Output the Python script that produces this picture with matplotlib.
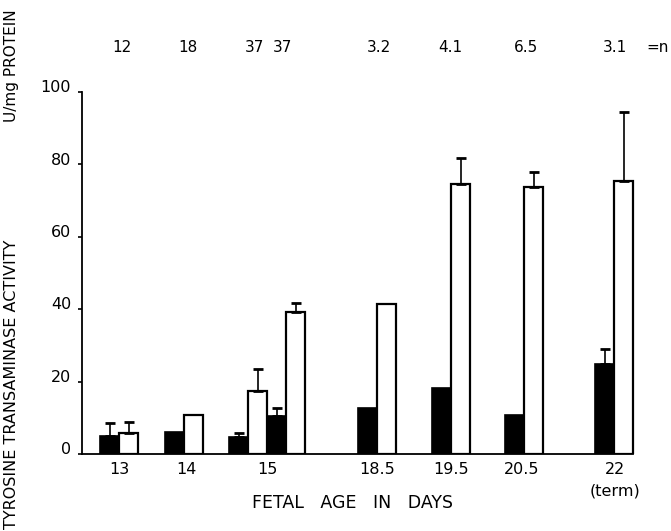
import matplotlib.pyplot as plt
import numpy as np

plt.rcParams['font.family'] = ['DejaVu Sans']

# one pair of bars per measurement (age 15 has two pairs)
pair_ages = ['13', '14', '15', '15', '18.5', '19.5', '20.5', '22']
fetal = [5.0, 6.0, 4.6, 10.4, 12.7, 18.2, 10.8, 24.8]
fetal_err = [3.6, 0, 1.2, 2.3, 0, 0, 0, 4.2]
other = [5.8, 10.7, 17.4, 39.2, 41.4, 74.5, 73.7, 75.3]
other_err = [3.0, 0, 6.0, 2.5, 0, 7.4, 4.3, 19.3]
n_labels = ['12', '18', '37', '37', '3.2', '4.1', '6.5', '3.1']

tick_labels = ['13', '14', '15', '18.5', '19.5', '20.5', '22']
y_ticks = [0, 20, 40, 60, 80, 100]

# layout (horizontal positions on the page, roughly pixels)
pair_x = np.array([119, 184, 248, 286, 377, 451, 524, 614])
tick_x = [119, 186, 267, 377, 451, 522, 615]
n_x = [122, 188, 255, 282, 379, 450, 526, 615]
w = 19

fig = plt.figure(figsize=(6.71, 5.31), dpi=100)
ax = fig.add_axes([82/671, 77/531, 556/671, 362/531])

ax.bar(pair_x - w/2, fetal, width=w, color='black', edgecolor='black', lw=1.2)
ax.bar(pair_x + w/2, other, width=w, color='white', edgecolor='black', lw=1.6)

for x, v, e in zip(pair_x - w/2, fetal, fetal_err):
    if e > 0:
        ax.errorbar(x, v + e/2, yerr=[[e/2], [e/2]], fmt='none', ecolor='black',
                    elinewidth=1.2, capsize=3.5, capthick=2)
for x, v, e in zip(pair_x + w/2, other, other_err):
    if e > 0:
        ax.errorbar(x, v + e/2, yerr=[[e/2], [e/2]], fmt='none', ecolor='black',
                    elinewidth=1.2, capsize=3.5, capthick=2)

ax.set_xlim(82, 638)
ax.set_ylim(0, 100)
ax.spines['top'].set_visible(False)
ax.spines['right'].set_visible(False)
ax.spines['left'].set_linewidth(1.3)
ax.spines['bottom'].set_linewidth(1.3)
ax.spines['bottom'].set_bounds(82, 633)

# y tick labels sit a little above their ticks in the original
ax.set_yticks(y_ticks)
ax.set_yticklabels([])
ax.tick_params(axis='y', length=3, width=1.2)
for t in y_ticks:
    ax.text(71, t + 1.2, str(t), ha='right', va='center', fontsize=11.5)

ax.set_xticks(tick_x)
ax.set_xticklabels(tick_labels, fontsize=11.5)
ax.tick_params(axis='x', length=0, pad=6)

for x, s in zip(n_x, n_labels):
    ax.text(x, 112.3, s, ha='center', va='center', fontsize=11)
ax.text(646, 112.3, '=n', ha='left', va='center', fontsize=11)

ax.text(615, -10.3, '(term)', ha='center', va='center', fontsize=11.5)
ax.text(352, -13.5, 'FETAL   AGE   IN   DAYS', ha='center', va='center', fontsize=12.5)

fig.text(12/671, 1 - 384/531, 'TYROSINE TRANSAMINASE ACTIVITY', rotation=90,
         ha='center', va='center', fontsize=11.5)
fig.text(12/671, 1 - 66/531, 'U/mg PROTEIN', rotation=90,
         ha='center', va='center', fontsize=11)

fig.savefig('out.png', dpi=100)
